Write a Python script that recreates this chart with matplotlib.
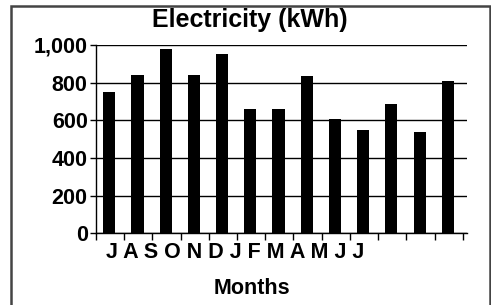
import matplotlib
matplotlib.use("Agg")
import matplotlib.pyplot as plt
from matplotlib.patches import Rectangle
from matplotlib.ticker import FuncFormatter

months = ["J", "A", "S", "O", "N", "D", "J", "F", "M", "A", "M", "J", "J"]
kwh = [750, 840, 980, 840, 950, 660, 660, 835, 605, 550, 685, 540, 810]
yticks = [0, 200, 400, 600, 800, 1000]

plt.rcParams['font.family'] = ['Liberation Sans', 'DejaVu Sans']
plt.rcParams['font.weight'] = 'bold'

W, H = 491, 305
fig = plt.figure(figsize=(W / 100, H / 100), dpi=100)
ax = fig.add_axes([96 / W, 1 - 233.3 / H, (466.7 - 96) / W, (233.3 - 45) / H])

pos = [i + 0.47 for i in range(len(kwh))]
ax.bar(pos, kwh, width=0.43, color='black', zorder=3)

ax.set_xlim(0, 13.14)
ax.set_ylim(0, 1000)
ax.set_xticks(range(len(kwh) + 1))
ax.set_xticklabels([])
ax.set_yticks(yticks)
ax.yaxis.set_major_formatter(FuncFormatter(lambda v, p: f"{int(v):,}"))
ax.tick_params(axis='y', length=4, width=1, pad=2, labelsize=15.5, color='black')
ax.tick_params(axis='x', length=5, width=1, color='black')
for lab in ax.get_yticklabels():
    lab.set_fontweight('bold')

ax.grid(axis='y', color='black', linewidth=1, zorder=1)
ax.set_axisbelow(True)
for s in ['top', 'right']:
    ax.spines[s].set_visible(False)
ax.spines['left'].set_linewidth(1)
ax.spines['bottom'].set_linewidth(1)

# month letters sit packed together under the first bars
ax.text(106 / W, 1 - 253 / H, " ".join(months), transform=fig.transFigure,
        ha='left', va='center', fontsize=15.5, fontweight='bold')

fig.text(250 / W, 1 - 20 / H, "Electricity (kWh)", ha='center', va='center',
         fontsize=18, fontweight='bold')
fig.text(251.7 / W, 1 - 289 / H, "Months", ha='center', va='center',
         fontsize=15.5, fontweight='bold')

fig.patches.append(Rectangle((10.5 / W, -0.05), (490 - 10.5) / W, 1 - 6 / H + 0.05,
                             transform=fig.transFigure, fill=False,
                             edgecolor='#444444', linewidth=1.8))

fig.savefig("out.png", dpi=100)
